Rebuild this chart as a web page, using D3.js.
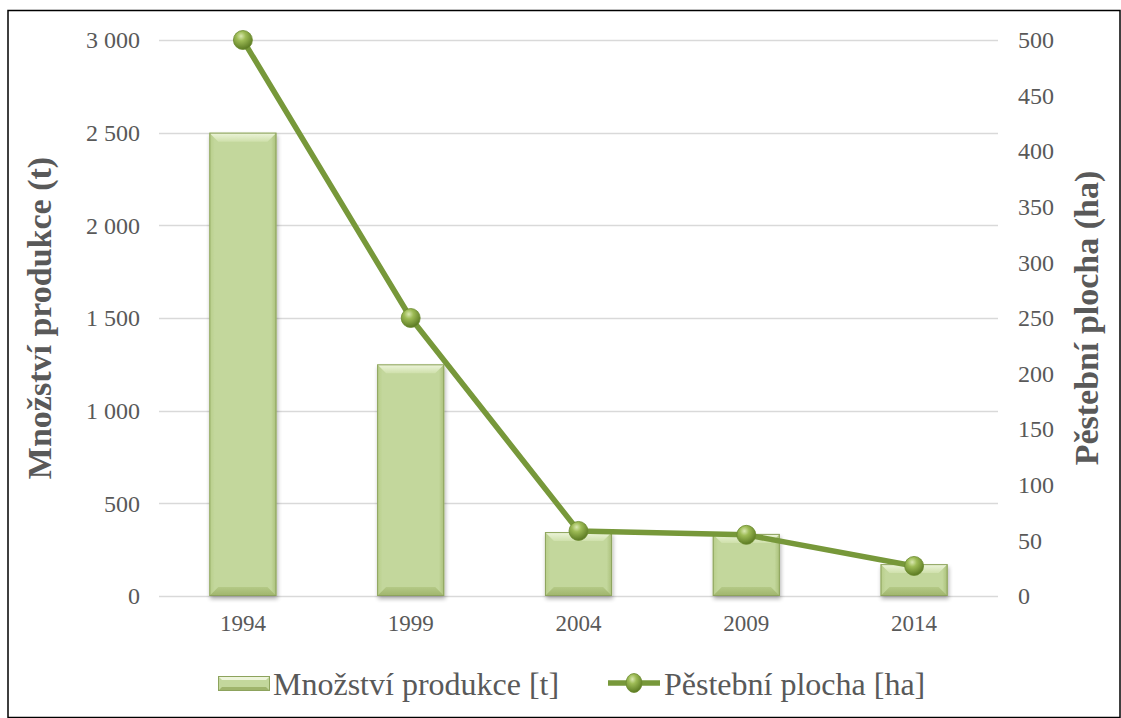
<!DOCTYPE html>
<html>
<head>
<meta charset="utf-8">
<script src="https://cdn.jsdelivr.net/npm/d3@7"></script>
<style>
  html, body { margin: 0; padding: 0; background: #fff; }
  svg { display: block; }
  text { font-family: "Liberation Serif", "Times New Roman", serif; }
</style>
</head>
<body>
<svg id="chart" width="1121" height="718"></svg>
<script>
// Production and growing area by year
const years = ["1994", "1999", "2004", "2009", "2014"];
const production = [2500, 1250, 345, 335, 172];   // Množství produkce [t]
const area = [500, 250, 58.5, 55, 27];              // Pěstební plocha [ha]
const leftTicks = [0, 500, 1000, 1500, 2000, 2500, 3000];
const rightTicks = [0, 50, 100, 150, 200, 250, 300, 350, 400, 450, 500];

const svg = d3.select("#chart");
const W = 1121, H = 718;
const plot = { left: 159, right: 998, top: 40, bottom: 596 };
const textColor = "#595959";

const x = d3.scaleBand().domain(years).range([plot.left, plot.right]).paddingInner(0.6).paddingOuter(0.3);
const xc = d3.scaleBand().domain(years).range([plot.left, plot.right]);
const yL = d3.scaleLinear().domain([0, 3000]).range([plot.bottom, plot.top]);
const yR = d3.scaleLinear().domain([0, 500]).range([plot.bottom, plot.top]);

const fmt = v => d3.format(",")(v).replace(/,/g, " ");

const defs = svg.append("defs");
// bar body
const gBody = defs.append("linearGradient").attr("id", "barBody").attr("x1", 0).attr("y1", 0).attr("x2", 1).attr("y2", 0);
gBody.append("stop").attr("offset", "0").attr("stop-color", "#b7cd88");
gBody.append("stop").attr("offset", "0.08").attr("stop-color", "#c3d79c");
gBody.append("stop").attr("offset", "0.92").attr("stop-color", "#c3d79c");
gBody.append("stop").attr("offset", "1").attr("stop-color", "#a9bf78");
const gTop = defs.append("linearGradient").attr("id", "barTop").attr("x1", 0).attr("y1", 0).attr("x2", 0).attr("y2", 1);
gTop.append("stop").attr("offset", "0").attr("stop-color", "#eef5dc");
gTop.append("stop").attr("offset", "1").attr("stop-color", "#cfe0ab");
const gBot = defs.append("linearGradient").attr("id", "barBot").attr("x1", 0).attr("y1", 0).attr("x2", 0).attr("y2", 1);
gBot.append("stop").attr("offset", "0").attr("stop-color", "#b4c986");
gBot.append("stop").attr("offset", "1").attr("stop-color", "#9fb46c");
// marker sphere
const gBall = defs.append("radialGradient").attr("id", "ball").attr("cx", "40%").attr("cy", "30%").attr("r", "70%");
gBall.append("stop").attr("offset", "0").attr("stop-color", "#d9e8b0");
gBall.append("stop").attr("offset", "0.35").attr("stop-color", "#9dbb55");
gBall.append("stop").attr("offset", "1").attr("stop-color", "#5b7a22");
const shadow = defs.append("filter").attr("id", "shadow").attr("x", "-20%").attr("y", "-20%").attr("width", "140%").attr("height", "140%");
shadow.append("feGaussianBlur").attr("in", "SourceAlpha").attr("stdDeviation", 2);
shadow.append("feOffset").attr("dx", 1).attr("dy", 3).attr("result", "ob");
shadow.append("feComponentTransfer").append("feFuncA").attr("type", "linear").attr("slope", 0.3);
const m = shadow.append("feMerge");
m.append("feMergeNode");
m.append("feMergeNode").attr("in", "SourceGraphic");

// outer frame
svg.append("rect").attr("x", 8).attr("y", 10.5).attr("width", W - 9).attr("height", H - 11)
  .attr("fill", "none").attr("stroke", "#000").attr("stroke-width", 1.5);

// gridlines
svg.append("g").selectAll("line").data(leftTicks).join("line")
  .attr("x1", plot.left).attr("x2", plot.right)
  .attr("y1", d => Math.round(yL(d)) + 0.5).attr("y2", d => Math.round(yL(d)) + 0.5)
  .attr("stroke", "#d9d9d9").attr("stroke-width", 1.5);

// left axis
const axL = svg.append("g").attr("transform", `translate(${plot.left},0)`)
  .call(d3.axisLeft(yL).tickValues(leftTicks).tickFormat(fmt).tickSize(0).tickPadding(19));
axL.select(".domain").remove();
axL.selectAll("text").attr("font-size", 24).attr("fill", textColor);

// right axis
const axR = svg.append("g").attr("transform", `translate(${plot.right},0)`)
  .call(d3.axisRight(yR).tickValues(rightTicks).tickFormat(fmt).tickSize(0).tickPadding(20));
axR.select(".domain").remove();
axR.selectAll("text").attr("font-size", 24).attr("fill", textColor);

// x axis
const axX = svg.append("g").attr("transform", `translate(0,${plot.bottom})`)
  .call(d3.axisBottom(xc).tickSize(0).tickPadding(19));
axX.select(".domain").remove();
axX.selectAll("text").attr("font-size", 23).attr("fill", textColor);

// bars with bevel
const bev = 9;
const bars = svg.append("g").selectAll("g").data(years.map((y, i) => ({ y, v: production[i] }))).join("g")
  .attr("filter", "url(#shadow)");
bars.each(function(d) {
  const g = d3.select(this);
  const x0 = x(d.y), w = x.bandwidth(), y0 = yL(d.v), h = yL(0) - y0;
  const b = Math.min(bev, h / 2, w / 2);
  g.append("rect").attr("x", x0).attr("y", y0).attr("width", w).attr("height", h).attr("fill", "url(#barBody)");
  g.append("path").attr("d", `M${x0},${y0}H${x0 + w}L${x0 + w - b},${y0 + b}H${x0 + b}Z`).attr("fill", "url(#barTop)");
  g.append("path").attr("d", `M${x0},${y0 + h}H${x0 + w}L${x0 + w - b},${y0 + h - b}H${x0 + b}Z`).attr("fill", "url(#barBot)");
  g.append("rect").attr("x", x0 + 0.5).attr("y", y0 + 0.5).attr("width", w - 1).attr("height", h - 1)
    .attr("fill", "none").attr("stroke", "#8da35d").attr("stroke-width", 1);
});

// line series
const cx = d => xc(d) + xc.bandwidth() / 2;
const line = d3.line().x((d, i) => cx(years[i])).y(d => yR(d));
svg.append("path").datum(area).attr("d", line).attr("fill", "none")
  .attr("stroke", "#77983a").attr("stroke-width", 5.5).attr("stroke-linejoin", "round");
svg.append("g").selectAll("circle").data(area).join("circle")
  .attr("cx", (d, i) => cx(years[i])).attr("cy", d => yR(d)).attr("r", 9.5)
  .attr("fill", "url(#ball)").attr("stroke", "#6b8a2e").attr("stroke-width", 0.8);

// axis titles
const midY = (plot.top + plot.bottom) / 2;
svg.append("text").attr("transform", `translate(51,${midY}) rotate(-90)`)
  .attr("text-anchor", "middle").attr("font-weight", "bold").attr("font-size", 34).attr("fill", textColor)
  .text("Množství produkce (t)");
svg.append("text").attr("transform", `translate(1098,${midY}) rotate(-90)`)
  .attr("text-anchor", "middle").attr("font-weight", "bold").attr("font-size", 34).attr("fill", textColor)
  .text("Pěstební plocha (ha)");

// legend
const lg = svg.append("g");
const sx = 218, sy = 676, sw = 52, sh = 15;
lg.append("rect").attr("x", sx).attr("y", sy).attr("width", sw).attr("height", sh).attr("fill", "#c3d79c");
lg.append("path").attr("d", `M${sx},${sy}H${sx + sw}L${sx + sw - 4},${sy + 4}H${sx + 4}Z`).attr("fill", "#eef5dc");
lg.append("path").attr("d", `M${sx},${sy + sh}H${sx + sw}L${sx + sw - 4},${sy + sh - 4}H${sx + 4}Z`).attr("fill", "#9fb46c");
lg.append("rect").attr("x", sx + 0.5).attr("y", sy + 0.5).attr("width", sw - 1).attr("height", sh - 1)
  .attr("fill", "none").attr("stroke", "#8da35d");
lg.append("text").attr("x", 273).attr("y", 695).attr("font-size", 32).attr("fill", textColor).text("Množství produkce [t]");
lg.append("line").attr("x1", 608).attr("x2", 660).attr("y1", 683).attr("y2", 683)
  .attr("stroke", "#77983a").attr("stroke-width", 5.5);
lg.append("ellipse").attr("cx", 634).attr("cy", 683).attr("rx", 8).attr("ry", 9.5)
  .attr("fill", "url(#ball)").attr("stroke", "#6b8a2e").attr("stroke-width", 0.8);
lg.append("text").attr("x", 664).attr("y", 695).attr("font-size", 32).attr("fill", textColor).text("Pěstební plocha [ha]");
</script>
</body>
</html>
